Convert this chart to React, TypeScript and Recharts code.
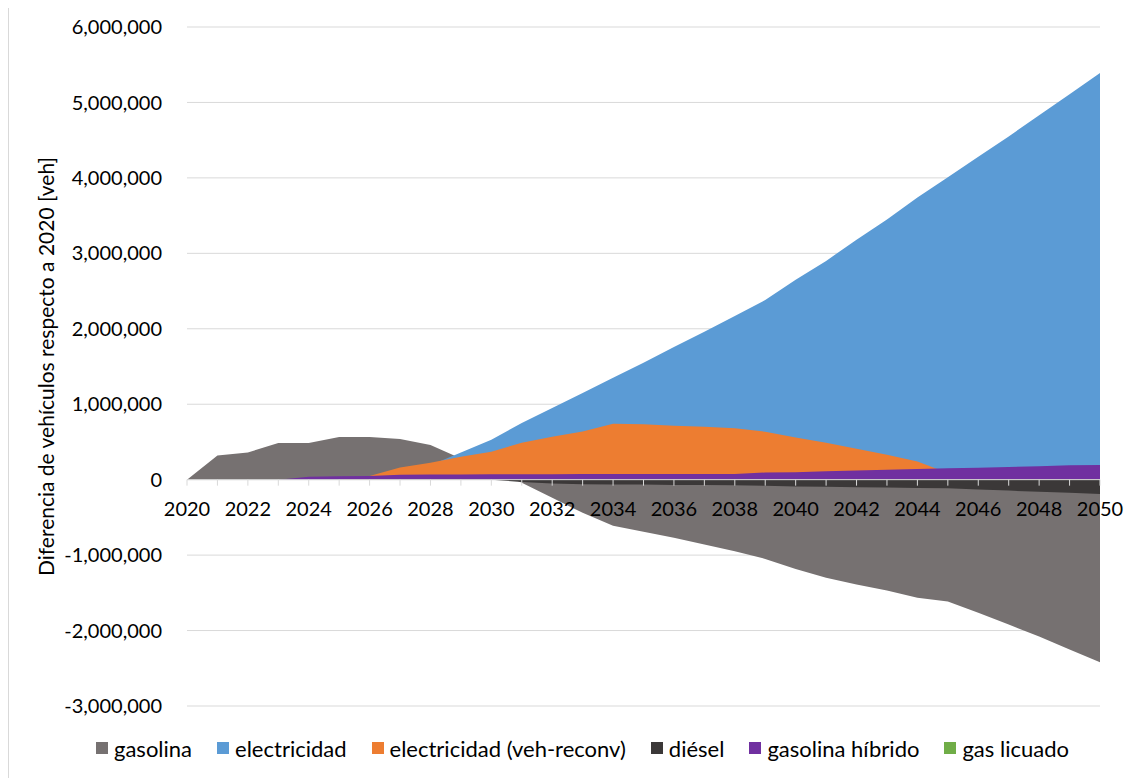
import React from "react";
import { AreaChart, Area, XAxis, YAxis, CartesianGrid, ReferenceLine, Legend } from "recharts";

// data (difference vs 2020, vehicles)
const years = [
  2020, 2021, 2022, 2023, 2024, 2025, 2026, 2027, 2028, 2029, 2030,
  2031, 2032, 2033, 2034, 2035, 2036, 2037, 2038, 2039, 2040,
  2041, 2042, 2043, 2044, 2045, 2046, 2047, 2048, 2049, 2050,
];

const gasolina = [
  0, 320000, 360000, 485000, 485000, 565000, 565000, 540000, 460000, 280000, 150000,
  -40000, -240000, -440000, -610000, -690000, -770000, -860000, -950000, -1050000, -1185000,
  -1300000, -1390000, -1470000, -1565000, -1615000, -1765000, -1920000, -2080000, -2250000, -2420000,
];

const electricidad = [
  0, 0, 0, 0, 10000, 20000, 40000, 90000, 190000, 360000, 530000,
  750000, 950000, 1150000, 1350000, 1550000, 1760000, 1960000, 2170000, 2380000, 2650000,
  2900000, 3180000, 3450000, 3740000, 4010000, 4280000, 4550000, 4830000, 5110000, 5390000,
];

const electricidadReconv = [
  0, 0, 0, 0, 0, 0, 50000, 160000, 225000, 305000, 370000,
  490000, 570000, 640000, 740000, 735000, 715000, 700000, 680000, 635000, 560000,
  490000, 410000, 330000, 240000, 90000, 40000, 30000, 20000, 15000, 10000,
];

const diesel = [
  0, 0, 0, 0, 0, 0, 0, 0, 0, 0, 0,
  -30000, -50000, -60000, -65000, -65000, -70000, -70000, -75000, -80000, -90000,
  -95000, -100000, -105000, -110000, -115000, -130000, -145000, -160000, -175000, -190000,
];

const gasolinaHibrido = [
  0, 0, 0, 0, 40000, 45000, 50000, 65000, 70000, 70000, 72000,
  72000, 72000, 74000, 74000, 74000, 75000, 75000, 76000, 95000, 98000,
  110000, 122000, 132000, 142000, 152000, 158000, 168000, 177000, 192000, 195000,
];

const gasLicuado = [
  0, 0, 0, 0, 0, 1000, 1000, 1000, 1000, 1000, 1000,
  1000, 1000, 1000, 1000, 1000, 1000, 1000, 1000, 1000, 1000,
  1000, 1000, 1000, 1000, 1000, 1000, 1000, 1000, 1000, 1000,
];

const yTicks = [-3000000, -2000000, -1000000, 0, 1000000, 2000000, 3000000, 4000000, 5000000, 6000000];

const series = [
  { key: "gasolina", name: "gasolina", color: "#767171", values: gasolina },
  { key: "electricidad", name: "electricidad", color: "#5B9BD5", values: electricidad },
  { key: "reconv", name: "electricidad (veh-reconv)", color: "#ED7D31", values: electricidadReconv },
  { key: "diesel", name: "diésel", color: "#3B3838", values: diesel },
  { key: "hibrido", name: "gasolina híbrido", color: "#7030A0", values: gasolinaHibrido },
  { key: "glp", name: "gas licuado", color: "#70AD47", values: gasLicuado },
];

const data = years.map((year, i) => {
  const row: any = { year };
  series.forEach((s) => (row[s.key] = s.values[i]));
  return row;
});

const W = 1126;
const H = 773;
const MARGIN = { top: 22, right: 35, bottom: 10, left: 0 };
const LEGEND_H = 40;
const XAXIS_H = 22;
const Y_MIN = -3000000;
const Y_MAX = 6000000;
const PLOT_H = H - MARGIN.top - MARGIN.bottom - LEGEND_H - XAXIS_H;
const ZERO_Y = MARGIN.top + (PLOT_H * Y_MAX) / (Y_MAX - Y_MIN);

const FONT = "Lato, 'Open Sans', sans-serif";
const GRID = "#d9d9d9";

const fmt = (v: number) => v.toLocaleString("en-US");

// x axis sits on the zero line, like excel does it
const XTick = ({ x, payload }: any) => (
  <g>
    <line x1={x} x2={x} y1={ZERO_Y} y2={ZERO_Y + 6} stroke={GRID} strokeWidth={1} />
    {payload.value % 2 === 0 && (
      <text x={x} y={ZERO_Y + 36} textAnchor="middle" fill="#000" fontSize={20} fontFamily={FONT}>
        {payload.value}
      </text>
    )}
  </g>
);

const renderLegend = () => (
  <div
    style={{
      display: "flex",
      alignItems: "center",
      height: LEGEND_H,
      paddingLeft: 87,
      fontFamily: FONT,
      fontSize: 22,
      color: "#000",
      whiteSpace: "nowrap",
    }}
  >
    {series.map((s) => (
      <div key={s.key} style={{ display: "flex", alignItems: "center", marginRight: 25 }}>
        <span style={{ width: 12, height: 12, background: s.color, marginRight: 6, display: "inline-block" }} />
        <span>{s.name}</span>
      </div>
    ))}
  </div>
);

export default function App() {
  return (
    <div
      style={{
        marginTop: -4,
        width: W,
        height: H,
        borderTop: "1px solid " + GRID,
        borderLeft: "1px solid " + GRID,
        background: "#fff",
      }}
    >
      <AreaChart width={W} height={H} data={data} margin={MARGIN}>
        <CartesianGrid vertical={false} stroke={GRID} strokeWidth={1} />
        {series.map((s) => (
          <Area
            key={s.key}
            type="linear"
            dataKey={s.key}
            name={s.name}
            fill={s.color}
            fillOpacity={1}
            stroke="none"
            baseValue={0}
            isAnimationActive={false}
            dot={false}
            activeDot={false}
          />
        ))}
        <ReferenceLine y={0} stroke={GRID} strokeWidth={1} />
        <XAxis
          dataKey="year"
          height={XAXIS_H}
          interval={0}
          axisLine={false}
          tickLine={false}
          tickSize={0}
          tickMargin={0}
          tick={<XTick />}
        />
        <YAxis
          width={178}
          domain={[Y_MIN, Y_MAX]}
          ticks={yTicks}
          allowDataOverflow
          axisLine={false}
          tickLine={false}
          tickSize={0}
          tickMargin={25}
          tickFormatter={fmt}
          tick={{ fill: "#000", fontSize: 20, fontFamily: FONT }}
          label={{
            value: "Diferencia de vehículos respecto a 2020 [veh]",
            angle: -90,
            position: "insideLeft",
            offset: 38,
            style: { textAnchor: "middle" },
            fill: "#000",
            fontSize: 21,
            fontFamily: FONT,
          }}
        />
        <Legend verticalAlign="bottom" content={renderLegend} wrapperStyle={{ left: 0, width: W, height: LEGEND_H }} />
      </AreaChart>
    </div>
  );
}
